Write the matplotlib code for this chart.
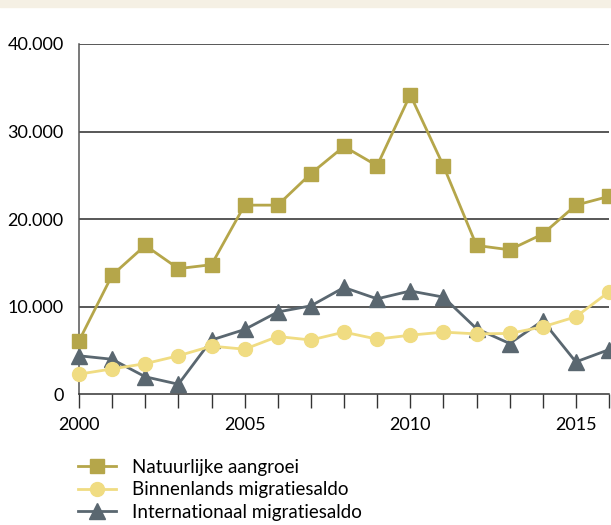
import matplotlib
matplotlib.use("Agg")
import matplotlib.pyplot as plt
from matplotlib.patches import Rectangle
from matplotlib.ticker import FuncFormatter, MultipleLocator

years = list(range(2000, 2017))
natuurlijke = [6100, 13600, 17000, 14350, 14800, 21600, 21600, 25200, 28300, 26100,
               34200, 26100, 17000, 16500, 18300, 21600, 22600]
binnenlands = [2300, 2900, 3500, 4400, 5500, 5150, 6600, 6200, 7100, 6300,
               6750, 7100, 6900, 6950, 7700, 8850, 11700]
internationaal = [4400, 4000, 2000, 1150, 6200, 7400, 9400, 10100, 12200, 10900,
                  11800, 11100, 7500, 5800, 8400, 3700, 5100]
labels = ["Natuurlijke aangroei", "Binnenlands migratiesaldo", "Internationaal migratiesaldo"]
y_ticks = [0, 10000, 20000, 30000, 40000]
x_tick_labels = [2000, 2005, 2010, 2015]

plt.rcParams['font.family'] = ['Lato', 'DejaVu Sans']

W, H = 611, 525
fig = plt.figure(figsize=(W / 100, H / 100), dpi=100)
fig.patches.append(Rectangle((0, 1 - 7 / H), 1, 7 / H, transform=fig.transFigure,
                             color="#f5f0e4", zorder=0))

ax = fig.add_axes([79 / W, 1 - 394.3 / H, (609 - 79) / W, (394.3 - 44) / H])

c_nat = "#b5a64a"
c_bin = "#f0dc82"
c_int = "#5a6770"

ax.plot(years, internationaal, color=c_int, lw=2.0, marker="^", ms=11, label=labels[2],
        clip_on=False, zorder=3)
ax.plot(years, binnenlands, color=c_bin, lw=2.0, marker="o", ms=10, label=labels[1],
        clip_on=False, zorder=4)
ax.plot(years, natuurlijke, color=c_nat, lw=2.0, marker="s", ms=10.5, label=labels[0],
        clip_on=False, zorder=5)

ax.set_xlim(2000, 2016)
ax.set_ylim(0, 40000)
ax.set_yticks(y_ticks)
ax.yaxis.set_major_formatter(FuncFormatter(lambda v, p: f"{int(v):,}".replace(",", ".")))
for yv in y_ticks[1:]:
    ax.axhline(yv, color="#2a2a2a", lw=1.1, zorder=1)

ax.xaxis.set_major_locator(MultipleLocator(1))
ax.set_xticks(years)
ax.set_xticklabels([str(y) if y in x_tick_labels else "" for y in years])
ax.tick_params(axis="x", direction="out", length=10, width=1.0, color="#333333",
               labelsize=13, pad=6)
ax.tick_params(axis="y", length=0, labelsize=13, pad=11)

for s in ["top", "right"]:
    ax.spines[s].set_visible(False)
ax.spines["left"].set_color("#555555")
ax.spines["left"].set_linewidth(1.1)
ax.spines["bottom"].set_color("#333333")
ax.spines["bottom"].set_linewidth(1.1)

handles, labs = ax.get_legend_handles_labels()
order = [2, 1, 0]
fs = 13.5
leg = fig.legend([handles[i] for i in order], [labs[i] for i in order],
                 loc="upper left", bbox_to_anchor=(70.5 / W, 1 - 451 / H), frameon=False,
                 fontsize=fs, handlelength=2.0, handletextpad=0.9, labelspacing=0.3,
                 borderaxespad=0)

fig.savefig("out.png", dpi=100)
